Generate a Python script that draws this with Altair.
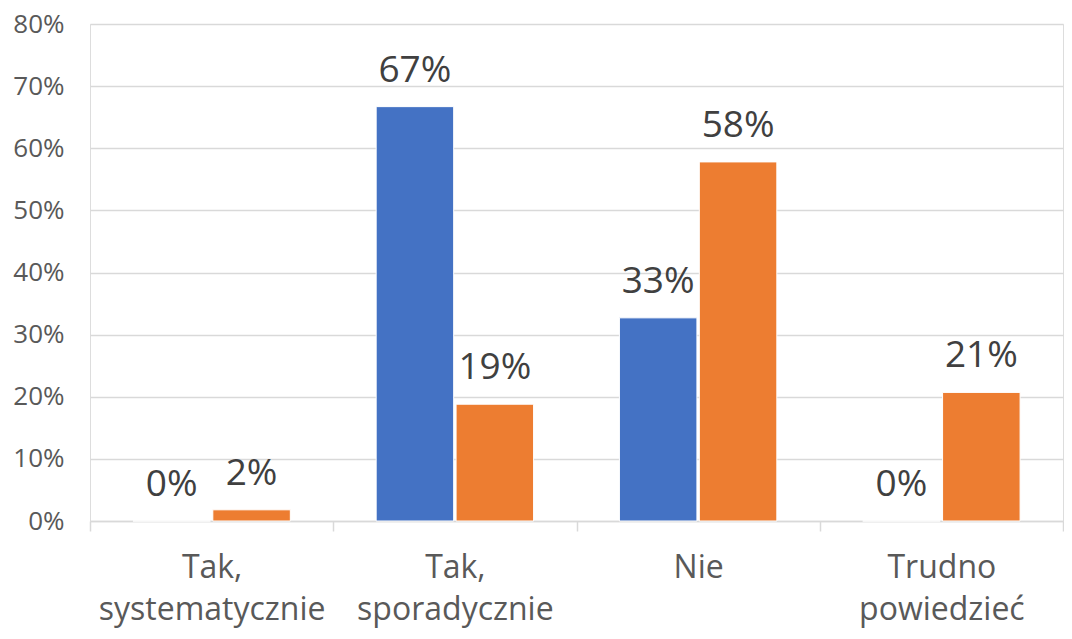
import altair as alt
import pandas as pd

categories = ["Tak,\nsystematycznie", "Tak,\nsporadycznie", "Nie", "Trudno\npowiedzieć"]
series_names = ["Seria 1", "Seria 2"]
blue_values = [0.0, 0.667, 0.327, 0.0]
orange_values = [0.018, 0.188, 0.578, 0.207]
colors = ["#4472C4", "#ED7D31"]

rows = []
for c, b, o in zip(categories, blue_values, orange_values):
    rows.append({"kategoria": c, "seria": series_names[0], "wartosc": b})
    rows.append({"kategoria": c, "seria": series_names[1], "wartosc": o})
df = pd.DataFrame(rows)

x = alt.X(
    "kategoria:N",
    sort=categories,
    scale=alt.Scale(paddingInner=0, paddingOuter=0),
    axis=alt.Axis(
        title=None,
        labelAngle=0,
        labelExpr="datum.value ? split(datum.value, '\\n') : ''",
        labelFontSize=32,
        labelColor="#595959",
        labelLineHeight=42,
        labelPadding=21,
        labelLimit=400,
        domain=True,
        domainColor="#D9D9D9",
        domainWidth=1.5,
        ticks=True,
        tickColor="#D9D9D9",
        tickWidth=1.5,
        tickSize=10,
        tickBand="extent",
        grid=False,
    ),
)
y = alt.Y(
    "wartosc:Q",
    scale=alt.Scale(domain=[0, 0.8], nice=False),
    axis=alt.Axis(
        title=None,
        format=".0%",
        values=[0, 0.1, 0.2, 0.3, 0.4, 0.5, 0.6, 0.7, 0.8],
        labelFontSize=26,
        labelColor="#595959",
        labelPadding=26,
        ticks=False,
        domain=False,
        grid=True,
        gridColor="#D9D9D9",
        gridWidth=1.5,
    ),
)
xoff = alt.XOffset("seria:N", sort=series_names,
                   scale=alt.Scale(paddingInner=0.03, paddingOuter=0.537))
color = alt.Color("seria:N", sort=series_names,
                  scale=alt.Scale(domain=series_names, range=colors), legend=None)

bars = alt.Chart(df).mark_bar(stroke="white", strokeWidth=1).encode(
    x=x, xOffset=xoff, y=y, color=color
)
labels = alt.Chart(df).mark_text(
    baseline="alphabetic", dy=-25, fontSize=37, color="#404040", font="Open Sans"
).encode(
    x=x, xOffset=xoff, y=y, text=alt.Text("wartosc:Q", format=".0%")
)

chart = (bars + labels).properties(
    width=1056, height=623,
    padding={"left": 4, "top": 3, "right": 0, "bottom": 6},
    autosize=alt.AutoSizeParams(type="fit", contains="padding"),
).configure_view(stroke=None).configure(font="Open Sans")

chart.save("out.html", embed_options={"renderer": "svg", "actions": False})
